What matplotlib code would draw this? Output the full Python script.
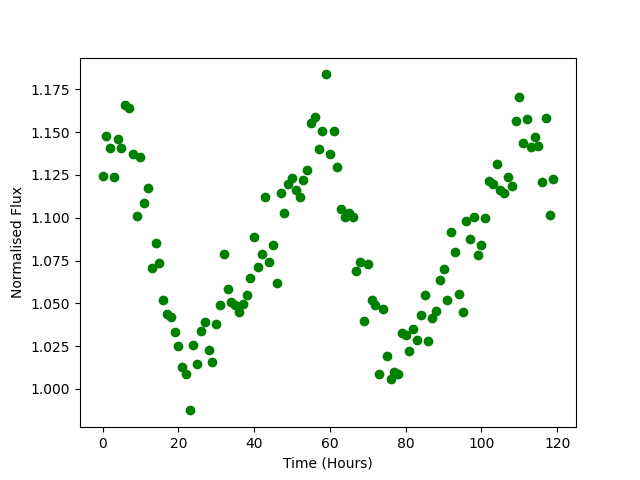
import matplotlib
matplotlib.use("Agg")
import matplotlib.pyplot as plt

time_hours = list(range(120))
flux = [
    1.1242, 1.1480, 1.1410, 1.1236, 1.1458, 1.1405, 1.1658, 1.1643, 1.1370, 1.1010,
    1.1353, 1.1084, 1.1173, 1.0704, 1.0850, 1.0733, 1.0517, 1.0437, 1.0421, 1.0331,
    1.0251, 1.0127, 1.0086, 0.9874, 1.0254, 1.0143, 1.0337, 1.0390, 1.0226, 1.0154,
    1.0378, 1.0489, 1.0791, 1.0581, 1.0507, 1.0489, 1.0448, 1.0495, 1.0548, 1.0647,
    1.0885, 1.0710, 1.0791, 1.1119, 1.0739, 1.0838, 1.0616, 1.1142, 1.1025, 1.1200,
    1.1232, 1.1162, 1.1119, 1.1220, 1.1278, 1.1551, 1.1588, 1.1400, 1.1510, 1.1838,
    1.1374, 1.1510, 1.1294, 1.1050, 1.1002, 1.1029, 1.1002, 1.0686, 1.0742, 1.0394,
    1.0727, 1.0518, 1.0489, 1.0086, 1.0464, 1.0191, 1.0055, 1.0096, 1.0086, 1.0324,
    1.0312, 1.0219, 1.0349, 1.0285, 1.0429, 1.0546, 1.0277, 1.0417, 1.0454, 1.0634,
    1.0698, 1.0518, 1.0914, 1.0797, 1.0552, 1.0447, 1.0984, 1.0873, 1.1002, 1.0785,
    1.0838, 1.0996, 1.1212, 1.1200, 1.1312, 1.1160, 1.1142, 1.1236, 1.1183, 1.1563,
    1.1703, 1.1436, 1.1575, 1.1415, 1.1471, 1.1420, 1.1207, 1.1586, 1.1014, 1.1224,
]

fig, ax = plt.subplots(figsize=(6.4, 4.8), dpi=100)
ax.plot(time_hours, flux, 'o', color='green')
ax.set_xlabel('Time (Hours)')
ax.set_ylabel('Normalised Flux')
fig.savefig('out.png', dpi=100)
